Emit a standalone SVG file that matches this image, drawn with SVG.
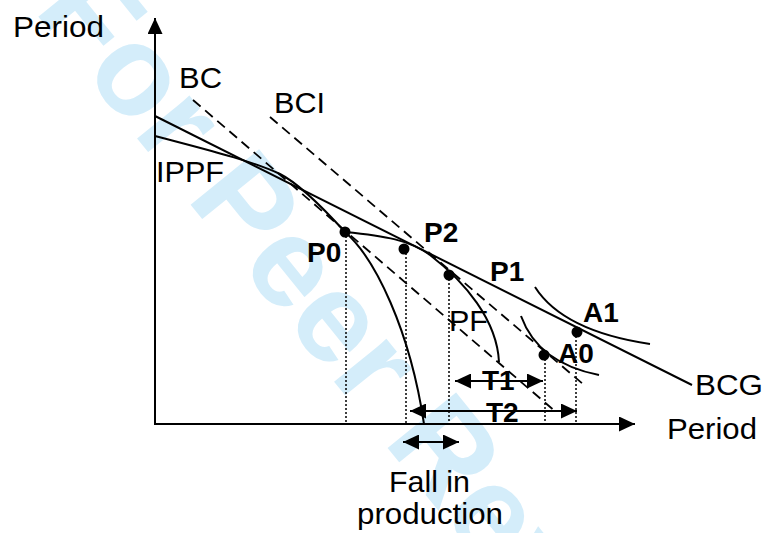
<svg xmlns="http://www.w3.org/2000/svg" width="766" height="533" viewBox="0 0 766 533">
<style>
.wm{font-family:"Liberation Sans",Arial,sans-serif;font-weight:bold;fill:#d4edfa}
.t{font-family:"Liberation Sans",Arial,Helvetica,sans-serif;font-size:29px;fill:#000}
.b{font-family:"Liberation Sans",Arial,Helvetica,sans-serif;font-size:28px;font-weight:bold;fill:#000}
.ln{fill:none;stroke:#000;stroke-width:2}
.da{fill:none;stroke:#000;stroke-width:1.8;stroke-dasharray:10 6}
.dt{fill:none;stroke:#000;stroke-width:1.5;stroke-dasharray:2 2}
.dot{fill:#000}
</style>
<defs>
<marker id="ah" viewBox="0 0 16 15" refX="16" refY="7.5" markerWidth="16" markerHeight="15" markerUnits="userSpaceOnUse" orient="auto-start-reverse">
<path d="M0,0 L16,7.5 L0,15 Z" fill="#000"/>
</marker>
</defs>
<rect width="766" height="533" fill="#fff"/>
<text class="wm" font-size="128" transform="translate(33,10) rotate(51)">For Peer Review</text>

<g id="axes">
<path class="ln" d="M155,425 L155,18" marker-end="url(#ah)"/>
<path class="ln" d="M154,424 L635,424" marker-end="url(#ah)"/>
<text class="t" x="13" y="37" textLength="91" lengthAdjust="spacingAndGlyphs">Period</text>
<text class="t" x="667" y="439" textLength="90" lengthAdjust="spacingAndGlyphs">Period</text>
</g>

<g id="connectors">
<path id="BC-line" class="da" d="M193,100 L556,412"/>
<path id="BCI-line" class="da" d="M270,117 L583,384"/>
<path id="BCG-line" class="ln" d="M155,116 L692,385"/>
<path id="IPPF-curve" class="ln" d="M155,136 C200,148 250,160 280,174 C300,184 325,210 345,232"/>
<path id="fall-curve" class="ln" d="M345,232 C375,258 410,330 424,424"/>
<path id="PF-curve" class="ln" d="M345,232 C385,236 410,240 430,255 C465,282 497,320 499,362"/>
<path id="A1-curve" class="ln" d="M535,287 Q563,331 650,344"/>
<path id="A0-curve" class="ln" d="M521,316 Q538,363 599,375"/>
<path class="dt" d="M346,232 V424 M406,249 V424 M449,275 V424 M545,355 V424 M576,332 V424"/>
<path id="T1-arrow" class="ln" d="M455,381 L543,381" marker-start="url(#ah)" marker-end="url(#ah)"/>
<path id="T2-arrow" class="ln" d="M410,411 L577,411" marker-start="url(#ah)" marker-end="url(#ah)"/>
<path id="fall-arrow" class="ln" d="M403,442 L459,442" marker-start="url(#ah)" marker-end="url(#ah)"/>
</g>

<g id="BC"><text class="t" x="179" y="88" textLength="43" lengthAdjust="spacingAndGlyphs">BC</text></g>
<g id="BCI"><text class="t" x="274" y="113" textLength="51" lengthAdjust="spacingAndGlyphs">BCI</text></g>
<g id="IPPF"><text class="t" x="156" y="182" textLength="68" lengthAdjust="spacingAndGlyphs">IPPF</text></g>
<g id="PF"><text class="t" x="449" y="331" textLength="39" lengthAdjust="spacingAndGlyphs">PF</text></g>
<g id="BCG"><text class="t" x="695" y="395" textLength="68" lengthAdjust="spacingAndGlyphs">BCG</text></g>

<g id="P0"><circle class="dot" cx="345" cy="232" r="5.5"/><text class="b" x="307" y="262">P0</text></g>
<g id="P2"><circle class="dot" cx="404" cy="249" r="5.5"/><text class="b" x="424" y="242">P2</text></g>
<g id="P1"><circle class="dot" cx="449" cy="275" r="5.5"/><text class="b" x="490" y="281">P1</text></g>
<g id="A1"><circle class="dot" cx="577" cy="332" r="5.5"/><text class="b" x="583" y="322">A1</text></g>
<g id="A0"><circle class="dot" cx="544" cy="355" r="5.5"/><text class="b" x="558" y="363">A0</text></g>
<g id="T1"><text class="b" x="482" y="390">T1</text></g>
<g id="T2"><text class="b" x="486" y="422">T2</text></g>
<g id="fall-label">
<text class="t" x="389" y="492" textLength="81" lengthAdjust="spacingAndGlyphs">Fall in</text>
<text class="t" x="357" y="524" textLength="146" lengthAdjust="spacingAndGlyphs">production</text>
</g>
</svg>
